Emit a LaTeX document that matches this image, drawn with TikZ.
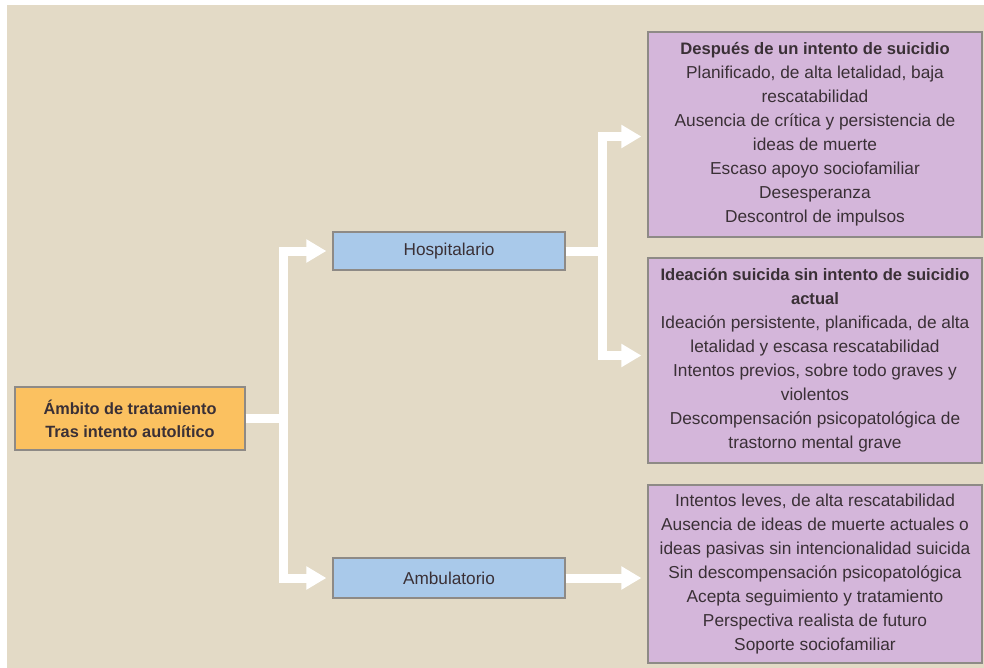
\documentclass[tikz,border=0pt]{standalone}
\usepackage{fontspec}
\setmainfont{Liberation Sans}
\usetikzlibrary{arrows.meta}

\definecolor{fondo}{HTML}{E3DAC6}
\definecolor{naranja}{HTML}{FBC160}
\definecolor{azul}{HTML}{A9C9EA}
\definecolor{lila}{HTML}{D4B6DA}
\definecolor{borde}{HTML}{8E8A86}
\definecolor{letra}{HTML}{3A3036}

\newcommand{\titulo}[1]{{\fontsize{16.6}{24}\selectfont\bfseries #1}}

\tikzset{
	caja/.style={draw=borde, line width=1.2pt, text=letra, align=center, inner sep=0pt},
	lista/.style={caja, fill=lila, minimum width=334pt, font=\fontsize{17.3}{24}\selectfont},
	rama/.style={caja, fill=azul, minimum width=232pt, font=\fontsize{17.2}{20}\selectfont},
	flecha/.style={draw=white, line width=9pt, -{Triangle[width=22pt,length=20pt]}, shorten >=6pt},
	tramo/.style={draw=white, line width=9pt}
}

\begin{document}
		\begin{tikzpicture}[x=1pt,y=-1pt]
			\useasboundingbox (0,0) rectangle (984,668);
			\fill[white] (0,0) rectangle (984,668);
			\fill[fondo] (7,5) rectangle (984,668);
			\node[caja, fill=naranja, minimum width=230pt, minimum height=63pt,
				font=\fontsize{16.3}{23}\selectfont\bfseries] (ambito) at (130,418.5)
				{Ámbito de tratamiento\\Tras intento autolítico};
			\node[rama, minimum height=38pt] (hosp) at (449,251) {Hospitalario};
			\node[rama, minimum height=40pt] (amb) at (449,578) {Ambulatorio};
			\node[lista, minimum height=205pt] (despues) at (815,134.5)
				{\titulo{Después de un intento de suicidio}\\
				Planificado, de alta letalidad, baja\\
				rescatabilidad\\
				Ausencia de crítica y persistencia de\\
				ideas de muerte\\
				Escaso apoyo sociofamiliar\\
				Desesperanza\\
				Descontrol de impulsos};
			\node[lista, minimum height=205pt] (ideacion) at (815,360.5)
				{\titulo{Ideación suicida sin intento de suicidio}\\
				\titulo{actual}\\
				Ideación persistente, planificada, de alta\\
				letalidad y escasa rescatabilidad\\
				Intentos previos, sobre todo graves y\\
				violentos\\
				Descompensación psicopatológica de\\
				trastorno mental grave};
			\node[lista, minimum height=178pt] (leves) at (815,574)
				{Intentos leves, de alta rescatabilidad\\
				Ausencia de ideas de muerte actuales o\\
				ideas pasivas sin intencionalidad suicida\\
				Sin descompensación psicopatológica\\
				Acepta seguimiento y tratamiento\\
				Perspectiva realista de futuro\\
				Soporte sociofamiliar};
			% ramas
			\coordinate (r1) at (283,418.5);
			\coordinate (r2) at (602,251);
			\draw[tramo] (ambito.east) -- (r1);
			\draw[flecha] (r1) |- (hosp.west);
			\draw[flecha] (r1) |- (amb.west);
			\draw[tramo] (hosp.east) -- (r2);
			\draw[flecha] (r2) |- ([yshift=-2pt]despues.west);
			\draw[flecha] (r2) |- ([yshift=5pt]ideacion.west);
			\draw[flecha] (amb.east) -- (amb.east -| leves.west);
		\end{tikzpicture}
\end{document}
